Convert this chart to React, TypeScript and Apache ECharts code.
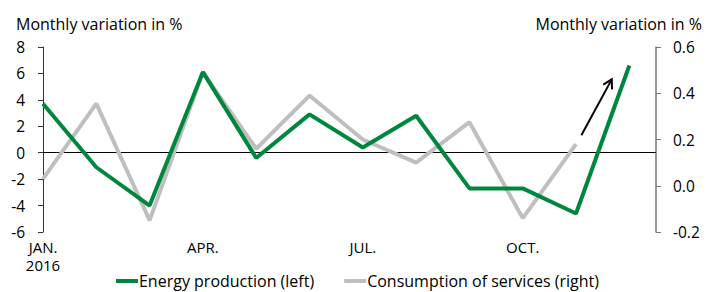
import React, { useEffect, useRef } from "react";
import * as echarts from "echarts";

const monthLabels = ["JAN.\n2016", "FEB.", "MAR.", "APR.", "MAY", "JUN.", "JUL.", "AUG.", "SEP.", "OCT.", "NOV.", "DEC."];
const monthIndex = [0, 1, 2, 3, 4, 5, 6, 7, 8, 9, 10, 11];
const energyProduction = [3.7, -1.1, -4.0, 6.1, -0.4, 2.9, 0.4, 2.8, -2.7, -2.7, -4.6, 6.6];
const servicesConsumption = [0.03, 0.355, -0.15, 0.49, 0.16, 0.39, 0.2, 0.1, 0.275, -0.14, 0.18, null];
const leftTicks = { min: -6, max: 8, interval: 2 };
const rightTicks = { min: -0.2, max: 0.6, interval: 0.2 };
const arrowFrom = [10.1, 0.218];
const arrowTo = [10.67, 0.46];

const FONT = "Open Sans";

export default function App() {
  const ref = useRef<HTMLDivElement>(null);
  useEffect(() => {
    const chart = echarts.init(ref.current!, null, { renderer: "svg" });
    chart.setOption({
      animation: false,
      textStyle: { fontFamily: FONT },
      title: [
        { text: "Monthly variation in %", left: 11, top: 11, textStyle: { fontSize: 16, fontWeight: "normal", color: "#000", fontFamily: FONT } },
        { text: "Monthly variation in %", right: 8, top: 11, textStyle: { fontSize: 16, fontWeight: "normal", color: "#000", fontFamily: FONT } },
      ],
      grid: { left: 43, right: 59, top: 47, bottom: 60, containLabel: false },
      legend: {
        top: 272,
        left: "center",
        itemWidth: 22,
        itemHeight: 4,
        itemGap: 30,
        icon: "rect",
        padding: 0,
        textStyle: { fontSize: 16, lineHeight: 18, color: "#000", fontFamily: FONT, padding: [0, 0, 0, -4] },
        data: ["Energy production (left)", "Consumption of services (right)"],
      },
      xAxis: {
        type: "value",
        min: 0,
        max: 11.5,
        interval: 3,
        axisLine: { show: false },
        axisTick: { show: false },
        splitLine: { show: false },
        axisLabel: {
          fontSize: 15,
          color: "#000",
          lineHeight: 18,
          margin: 6,
          showMaxLabel: false,
          formatter: (v: number) => monthLabels[Math.round(v)] ?? "",
        },
      },
      yAxis: [
        {
          type: "value",
          ...leftTicks,
          position: "left",
          axisLine: { show: true, lineStyle: { color: "#333", width: 1 } },
          axisTick: { show: true, length: 5, lineStyle: { color: "#333" } },
          splitLine: { show: false },
          axisLabel: { fontSize: 15.5, color: "#000", margin: 18 },
        },
        {
          type: "value",
          ...rightTicks,
          position: "right",
          axisLine: { show: true, lineStyle: { color: "#777", width: 1.5 } },
          axisTick: { show: true, length: 5, lineStyle: { color: "#777" } },
          splitLine: { show: false },
          axisLabel: { fontSize: 15.5, color: "#000", margin: 17, formatter: (v: number) => v.toFixed(1) },
        },
      ],
      series: [
        {
          name: "Energy production (left)",
          type: "line",
          yAxisIndex: 0,
          data: monthIndex.map((i) => [i, energyProduction[i]]),
          symbol: "none",
          lineStyle: { color: "#00873E", width: 4 },
          itemStyle: { color: "#00873E" },
          z: 3,
          markLine: {
            silent: true,
            symbol: "none",
            label: { show: false },
            lineStyle: { color: "#000", width: 1, type: "solid" },
            data: [{ yAxis: 0 }],
            z: 1,
          },
        },
        {
          name: "Consumption of services (right)",
          type: "line",
          yAxisIndex: 1,
          data: monthIndex.map((i) => [i, servicesConsumption[i]]),
          symbol: "none",
          lineStyle: { color: "#BFBFBF", width: 4 },
          itemStyle: { color: "#BFBFBF" },
          z: 2,
        },
      ],
    });
    const p0 = chart.convertToPixel({ xAxisIndex: 0, yAxisIndex: 1 }, arrowFrom) as number[];
    const p1 = chart.convertToPixel({ xAxisIndex: 0, yAxisIndex: 1 }, arrowTo) as number[];
    if (p0 && p1) {
      const dx = p1[0] - p0[0];
      const dy = p1[1] - p0[1];
      const len = Math.sqrt(dx * dx + dy * dy);
      const ux = dx / len;
      const uy = dy / len;
      const headLen = 10;
      const ang = Math.PI / 6;
      const rot = (x: number, y: number, a: number) => [x * Math.cos(a) - y * Math.sin(a), x * Math.sin(a) + y * Math.cos(a)];
      const a1 = rot(-ux, -uy, ang);
      const a2 = rot(-ux, -uy, -ang);
      chart.setOption({
        graphic: [
          { type: "line", shape: { x1: p0[0], y1: p0[1], x2: p1[0], y2: p1[1] }, style: { stroke: "#000", lineWidth: 2 }, z: 10 },
          {
            type: "polyline",
            shape: {
              points: [
                [p1[0] + a1[0] * headLen, p1[1] + a1[1] * headLen],
                [p1[0], p1[1]],
                [p1[0] + a2[0] * headLen, p1[1] + a2[1] * headLen],
              ],
            },
            style: { stroke: "#000", lineWidth: 2, fill: "none" },
            z: 10,
          },
        ],
      });
    }
    return () => chart.dispose();
  }, []);
  return <div ref={ref} style={{ position: "absolute", left: 0, top: 0, width: 715, height: 292 }} />;
}
